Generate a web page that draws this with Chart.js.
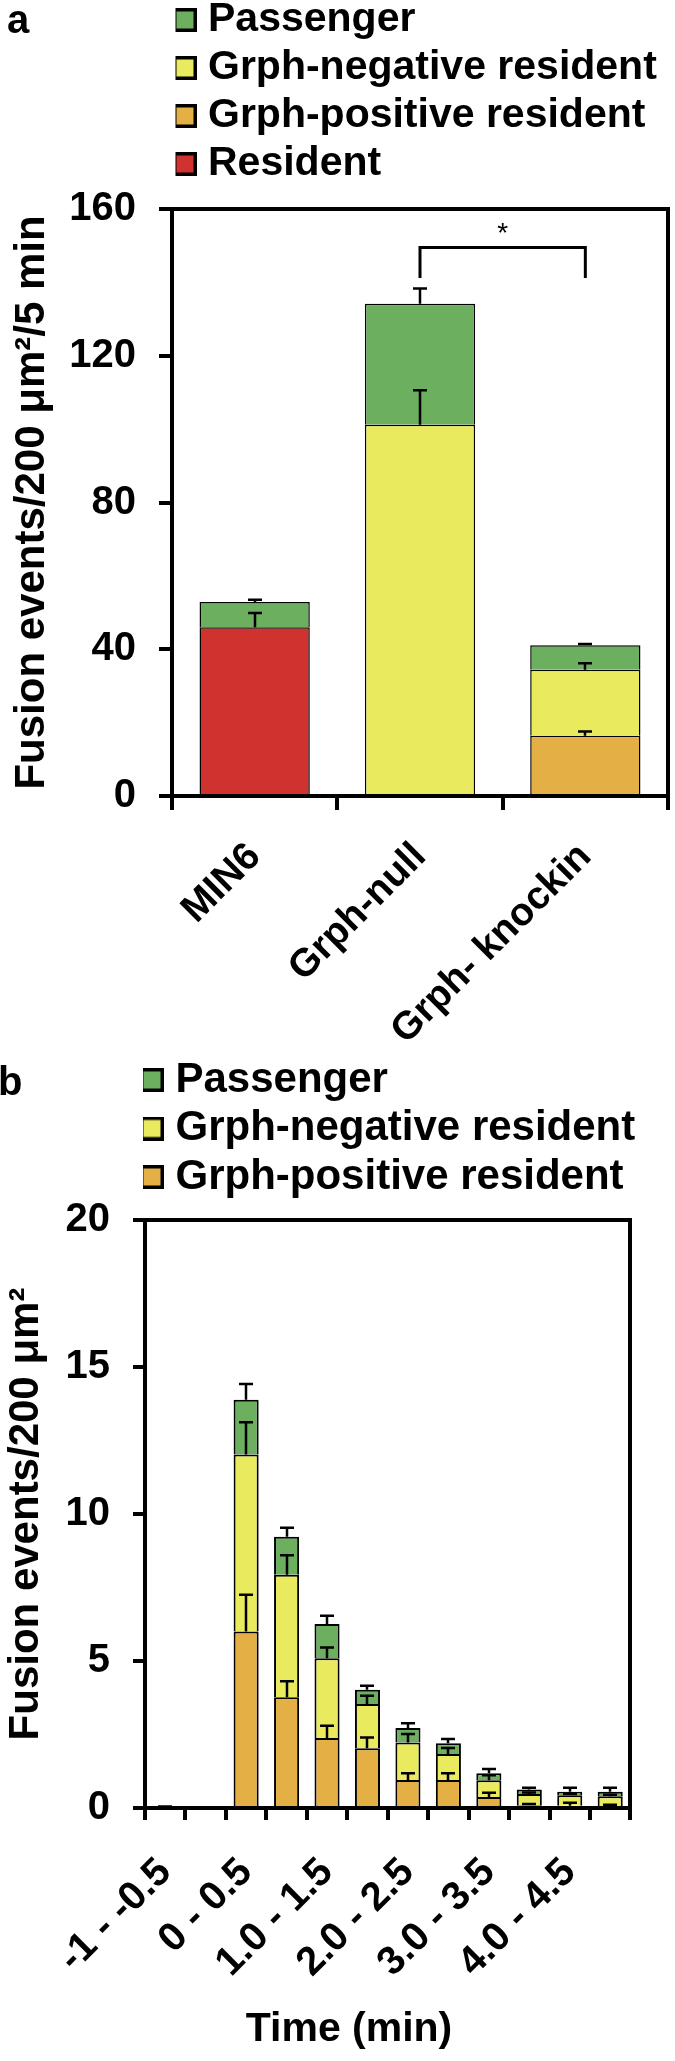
<!DOCTYPE html>
<html><head><meta charset="utf-8">
<script src="https://cdn.jsdelivr.net/npm/chart.js@4.4.1/dist/chart.umd.min.js"></script>
<style>
html,body{margin:0;padding:0;background:#fff;}
body{width:675px;height:2061px;position:relative;overflow:hidden;font-family:"Liberation Sans",Arial,sans-serif;}
#wa{position:absolute;left:0;top:0;width:675px;height:1075px;}
#wb{position:absolute;left:0;top:1050px;width:675px;height:1011px;}
.panel{position:absolute;font-weight:bold;font-size:40px;line-height:40px;color:#000;font-family:"Liberation Sans",Arial,sans-serif;}
</style></head><body>
<div id="wa"><canvas id="ca" width="675" height="1075" style="width:675px;height:1075px"></canvas></div>
<div id="wb"><canvas id="cb" width="675" height="1011" style="width:675px;height:1011px"></canvas></div>
<div class="panel" style="left:7px;top:-1px;">a</div>
<div class="panel" style="left:-2px;top:1061px;">b</div>
<script>
// ---------- Panel a data ----------
const groupsA = ['MIN6', 'Grph-null', 'Grph- knockin'];
const residentA = [46.0, null, null];
const residentErrA = [3.9, null, null];
const grphPosA = [null, null, 16.4];
const grphPosErrA = [null, null, 1.2];
const grphNegA = [null, 101.2, 18.0];
const grphNegErrA = [null, 9.4, 1.8];
const passengerA = [6.9, 33.0, 6.7];
const passengerErrA = [0.6, 4.1, 0.3];
const yTicksA = [0, 40, 80, 120, 160];
const sigPairA = ['Grph-null', 'Grph- knockin'];
const sigLevelsA = [141.2, 149.5];
const sigStarA = 153.2;

// ---------- Panel b data ----------
const timeBinsB = ['-1 - -0.5', '-0.5 - 0', '0 - 0.5', '0.5 - 1.0', '1.0 - 1.5', '1.5 - 2.0',
                   '2.0 - 2.5', '2.5 - 3.0', '3.0 - 3.5', '3.5 - 4.0', '4.0 - 4.5', '4.5 - 5.0'];
const grphPosB = [0, null, 6.0, 3.77, 2.38, 2.03, 0.95, 0.95, 0.37, 0.09, 0.08, 0.06];
const grphPosErrB = [0.05, null, 1.25, 0.54, 0.42, 0.37, 0.23, 0.23, 0.15, 0.05, 0.10, 0.05];
const grphNegB = [null, null, 6.02, 4.16, 2.71, 1.51, 1.28, 0.89, 0.57, 0.39, 0.35, 0.34];
const grphNegErrB = [null, null, 1.10, 0.67, 0.37, 0.28, 0.29, 0.20, 0.17, 0.05, 0.05, 0.05];
const passengerB = [null, null, 1.87, 1.30, 1.17, 0.48, 0.49, 0.36, 0.24, 0.15, 0.12, 0.15];
const passengerErrB = [null, null, 0.53, 0.30, 0.28, 0.14, 0.16, 0.15, 0.15, 0.06, 0.14, 0.14];
const yTicksB = [0, 5, 10, 15, 20];

// ---------- styles ----------
const FONT = '"Liberation Sans", Arial, sans-serif';
const GREEN = '#6BAF5F', YELLOW = '#EAEA5E', ORANGE = '#E4B045', RED = '#D0332F';
Chart.defaults.font.family = FONT;
Chart.defaults.color = '#000';

const errorBarPlugin = {
  id: 'errorBars',
  afterDatasetsDraw(chart, args, opts) {
    const ctx = chart.ctx, ys = chart.scales.y;
    const n = chart.data.labels.length;
    ctx.save();
    ctx.strokeStyle = '#000'; ctx.lineWidth = opts.width; ctx.lineCap = 'butt';
    for (let j = 0; j < n; j++) {
      let cum = 0;
      chart.data.datasets.forEach((ds, i) => {
        if (!ds.errors) return;
        const v = ds.data[j];
        if (v == null) return;
        cum += v;
        const e = ds.errors[j];
        if (!e) return;
        const bar = chart.getDatasetMeta(i).data[j];
        const x = Math.round(bar.x);
        const y0 = ys.getPixelForValue(cum), y1 = ys.getPixelForValue(cum + e);
        ctx.beginPath();
        ctx.moveTo(x, y0); ctx.lineTo(x, y1);
        ctx.moveTo(x - opts.cap, y1); ctx.lineTo(x + opts.cap, y1);
        ctx.stroke();
      });
    }
    ctx.restore();
  }
};

const sigStarPlugin = {
  id: 'sigStar',
  afterDatasetsDraw(chart, args, opts) {
    if (!opts || !opts.text) return;
    const ctx = chart.ctx, xs = chart.scales.x, ys = chart.scales.y;
    const labels = chart.data.labels;
    const x = (xs.getPixelForValue(labels.indexOf(opts.pair[0])) + xs.getPixelForValue(labels.indexOf(opts.pair[1]))) / 2;
    const y = ys.getPixelForValue(opts.value);
    ctx.save();
    ctx.fillStyle = '#000'; ctx.font = opts.font;
    ctx.textAlign = 'center'; ctx.textBaseline = 'middle';
    ctx.fillText(opts.text, x, y);
    ctx.restore();
  }
};

const legendPlacer = {
  id: 'legendPlacer',
  beforeDraw(chart, args, opts) {
    const lg = chart.legend;
    if (!lg) return;
    lg.left = opts.left; lg.top = opts.top;
    lg.right = opts.left + 700; lg.bottom = opts.top + 1000;
    lg.width = 700; lg.height = 1000;
  }
};

function swatch(color) {
  const c = document.createElement('canvas');
  c.width = 24; c.height = 24;
  const g = c.getContext('2d');
  g.fillStyle = '#000'; g.fillRect(0, 0, 24, 24);
  g.fillStyle = color; g.fillRect(3.5, 3.5, 17, 17);
  return c;
}

function legendLabels(size, pad) {
  return {
    color: '#000',
    font: {family: FONT, size: size, weight: 'bold'},
    usePointStyle: true, pointStyleWidth: 5, boxHeight: 21, padding: pad,
    filter: (item, data) => data.datasets[item.datasetIndex].type !== 'line',
    generateLabels: (chart) => Chart.defaults.plugins.legend.labels.generateLabels(chart)
      .map(it => Object.assign(it, {pointStyle: swatch(it.fillStyle), lineWidth: 0}))
  };
}

function frameAxes(labels) {
  return {
    xTop: {type: 'category', labels: labels, position: 'top', display: true,
      grid: {display: true, drawOnChartArea: false, drawTicks: false},
      border: {display: true, width: 4, color: '#000', z: 1},
      ticks: {display: false}, afterFit: s => { s.height = 0; }},
    yRight: {type: 'linear', position: 'right', min: 0, max: 1, display: true,
      grid: {display: true, drawOnChartArea: false, drawTicks: false},
      border: {display: true, width: 4, color: '#000', z: 1},
      ticks: {display: false}, afterFit: s => { s.width = 0; }}
  };
}

// ---------- Chart a ----------
new Chart(document.getElementById('ca'), {
  type: 'bar',
  data: {
    labels: groupsA,
    datasets: [
      {label: 'Resident', data: residentA, errors: residentErrA, backgroundColor: RED},
      {label: 'Grph-positive resident', data: grphPosA, errors: grphPosErrA, backgroundColor: ORANGE},
      {label: 'Grph-negative resident', data: grphNegA, errors: grphNegErrA, backgroundColor: YELLOW},
      {label: 'Passenger', data: passengerA, errors: passengerErrA, backgroundColor: GREEN},
      {type: 'line', label: '', stack: 'sig',
       data: [{x: sigPairA[0], y: sigLevelsA[0]}, {x: sigPairA[0], y: sigLevelsA[1]},
              {x: sigPairA[1], y: sigLevelsA[1]}, {x: sigPairA[1], y: sigLevelsA[0]}],
       borderColor: '#000', borderWidth: 3, pointRadius: 0, fill: false, tension: 0}
    ]
  },
  options: {
    responsive: false, animation: false, events: [],
    layout: {padding: {left: 0, right: 7, top: 209, bottom: 0}},
    datasets: {bar: {barPercentage: 0.667, categoryPercentage: 1, borderColor: '#000', borderWidth: 1.5}},
    scales: Object.assign({
      x: {stacked: true, position: 'bottom',
        grid: {display: true, drawOnChartArea: false, drawTicks: true, tickLength: 14, lineWidth: 4, color: '#000', offset: true},
        border: {display: true, width: 4, color: '#000', z: 1},
        ticks: {autoSkip: false, minRotation: 45, maxRotation: 45, padding: 24, color: '#000',
          font: {family: FONT, size: 39, weight: 'bold'}},
        afterFit: s => { s.height = 1075 - 796; }},
      y: {stacked: true, min: yTicksA[0], max: yTicksA[yTicksA.length - 1],
        afterBuildTicks: s => { s.ticks = yTicksA.map(v => ({value: v})); },
        ticks: {padding: 23, color: '#000', font: {family: FONT, size: 40, weight: 'bold'}},
        grid: {display: true, drawOnChartArea: false, tickLength: 13, lineWidth: 4, color: '#000'},
        border: {display: true, width: 4, color: '#000', z: 1},
        title: {display: true, text: 'Fusion events/200 μm²/5 min', color: '#000',
          font: {family: FONT, size: 42, weight: 'bold'}, padding: {top: 6.9, bottom: 0}},
        afterFit: s => { s.width = 172; }}
    }, frameAxes(groupsA)),
    plugins: {
      legend: {position: 'chartArea', align: 'start', reverse: true, labels: legendLabels(41, 7)},
      tooltip: {enabled: false},
      title: {display: false},
      legendPlacer: {left: 175.5, top: -7.5},
      errorBars: {width: 2.5, cap: 7},
      sigStar: {text: '*', pair: sigPairA, value: sigStarA, font: '28px ' + FONT}
    }
  },
  plugins: [legendPlacer, errorBarPlugin, sigStarPlugin]
});

// ---------- Chart b ----------
new Chart(document.getElementById('cb'), {
  type: 'bar',
  data: {
    labels: timeBinsB,
    datasets: [
      {label: 'Grph-positive resident', data: grphPosB, errors: grphPosErrB, backgroundColor: ORANGE},
      {label: 'Grph-negative resident', data: grphNegB, errors: grphNegErrB, backgroundColor: YELLOW},
      {label: 'Passenger', data: passengerB, errors: passengerErrB, backgroundColor: GREEN}
    ]
  },
  options: {
    responsive: false, animation: false, events: [],
    layout: {padding: {left: 38, right: 15, top: 170, bottom: 0}},
    datasets: {bar: {barPercentage: 0.62, categoryPercentage: 1, borderColor: '#000', borderWidth: 2}},
    scales: Object.assign({
      x: {stacked: true, position: 'bottom',
        grid: {display: true, drawOnChartArea: false, drawTicks: true, tickLength: 12, lineWidth: 4, color: '#000', offset: true},
        border: {display: true, width: 4, color: '#000', z: 1},
        ticks: {autoSkip: false, minRotation: 45, maxRotation: 45, padding: 29, color: '#000',
          font: {family: FONT, size: 40, weight: 'bold'},
          callback: (v, i) => (i % 2 === 0 ? timeBinsB[i] : '')},
        afterFit: s => { s.height = 1011 - 55.6 - 758; }},
      y: {stacked: true, min: yTicksB[0], max: yTicksB[yTicksB.length - 1],
        afterBuildTicks: s => { s.ticks = yTicksB.map(v => ({value: v})); },
        ticks: {padding: 23, color: '#000', font: {family: FONT, size: 40, weight: 'bold'}},
        grid: {display: true, drawOnChartArea: false, tickLength: 12, lineWidth: 4, color: '#000'},
        border: {display: true, width: 4, color: '#000', z: 1},
        title: {display: true, text: 'Fusion events/200 μm²', color: '#000',
          font: {family: FONT, size: 42, weight: 'bold'}, padding: {top: -36.7, bottom: 0}},
        afterFit: s => { s.width = 145 - 38; }}
    }, frameAxes(timeBinsB)),
    plugins: {
      legend: {position: 'chartArea', align: 'start', reverse: true, labels: legendLabels(42, 6.5)},
      tooltip: {enabled: false},
      title: {display: true, position: 'bottom', text: 'Time (min)', color: '#000',
        font: {family: FONT, size: 41, weight: 'bold', lineHeight: 1.2}, padding: {top: 0, bottom: 6.4}},
      legendPlacer: {left: 143, top: 2.5},
      errorBars: {width: 2.5, cap: 7}
    }
  },
  plugins: [legendPlacer, errorBarPlugin]
});
</script>
</body></html>
